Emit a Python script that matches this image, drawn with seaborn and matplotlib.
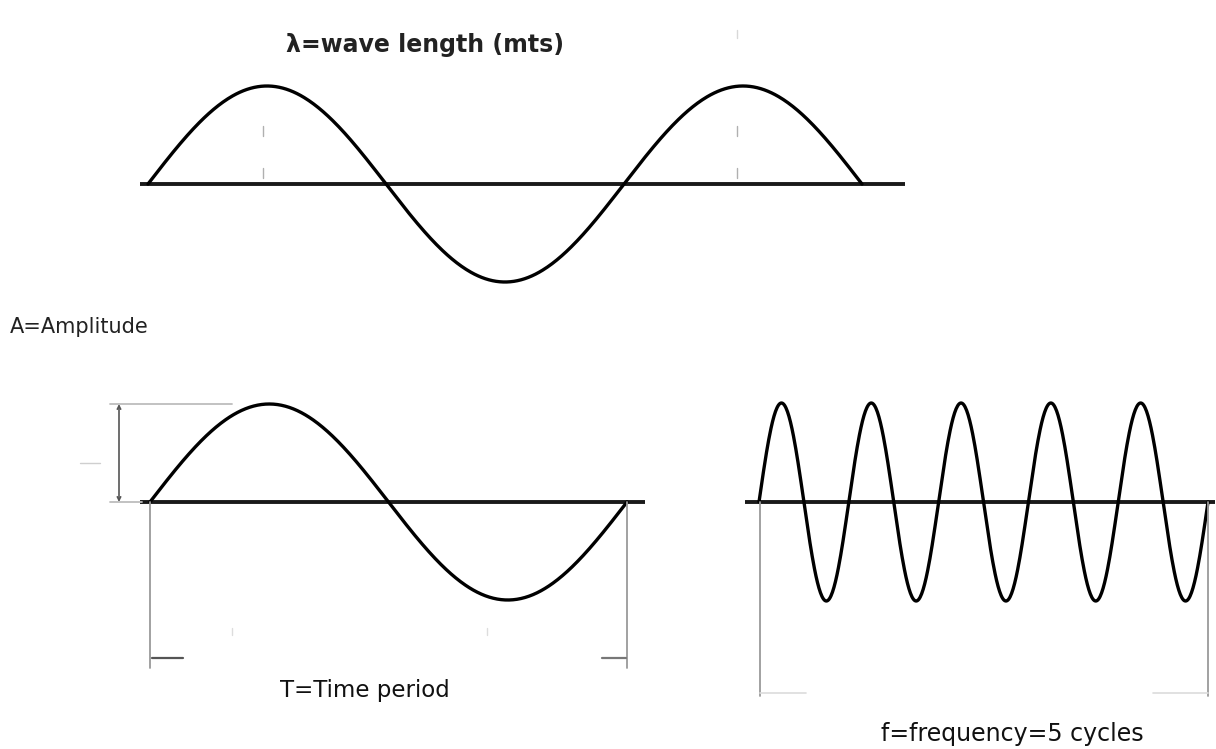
import numpy as np
import pandas as pd
import matplotlib
matplotlib.use("Agg")
import matplotlib.pyplot as plt
import seaborn as sns

# wave data: number of cycles drawn in each panel, amplitude in "A" units
wave_names = ["wavelength", "period", "frequency"]
wave_cycles = [1.5, 1.0, 5.0]
wave_amp = [1.0, 1.0, 1.0]
labels = ["\u03bb=wave length (mts)", "A=Amplitude", "T=Time period", "f=frequency=5 cycles"]

# layout in pixels: x of wave start, px per cycle, baseline y, px per amplitude
x0_px = [148, 150, 759]
cyc_px = [476, 477, 89.8]
base_px = [184, 502, 502]
amp_px = [98, 98, 99]

W, H = 1216, 749
sns.set_theme(style="white")
plt.rcParams['font.family'] = ['DejaVu Sans']

fig = plt.figure(figsize=(W / 100, H / 100), dpi=100)
fig.patch.set_facecolor("white")


def make_ax(i):
    ax = fig.add_axes([0, 0, 1, 1])
    ax.patch.set_alpha(0)
    ax.set_xlim(-x0_px[i] / cyc_px[i], (W - x0_px[i]) / cyc_px[i])
    ax.set_ylim((base_px[i] - H) / amp_px[i], base_px[i] / amp_px[i])
    ax.set_axis_off()
    return ax


def px_x(i, px):
    return (px - x0_px[i]) / cyc_px[i]


def px_y(i, py):
    return (base_px[i] - py) / amp_px[i]


axes = []
for i, name in enumerate(wave_names):
    ax = make_ax(i)
    t = np.linspace(0, wave_cycles[i], 600)
    df = pd.DataFrame({"cycle": t, "value": wave_amp[i] * np.sin(2 * np.pi * t)})
    sns.lineplot(data=df, x="cycle", y="value", ax=ax, color="black", lw=2.4,
                 sort=False, legend=False)
    axes.append(ax)

gray = "#9a9a9a"
# baselines
for i, (a, b) in enumerate([(140, 905), (140, 645), (745, 1215)]):
    axes[i].plot([px_x(i, a), px_x(i, b)], [0, 0], color="#1a1a1a", lw=2.8, zorder=1,
                 solid_capstyle="butt")

# top panel: faint marks under the peaks
ax = axes[0]
for xp in [263, 737]:
    for y1, y2 in [(126, 136), (168, 178)]:
        ax.plot([px_x(0, xp)] * 2, [px_y(0, y1), px_y(0, y2)], color="#b0b0b0", lw=1)
ax.plot([px_x(0, 737)] * 2, [px_y(0, 30), px_y(0, 38)], color="#d8d8d8", lw=1)

# bottom-left: amplitude bracket and period markers
ax = axes[1]
ax.plot([px_x(1, 110), px_x(1, 232)], [px_y(1, 404)] * 2, color="#bdbdbd", lw=1.3)
ax.plot([px_x(1, 110), px_x(1, 142)], [0, 0], color="#bdbdbd", lw=1.3)
ax.annotate("", xy=(px_x(1, 119), px_y(1, 404)), xytext=(px_x(1, 119), px_y(1, 502)),
            arrowprops=dict(arrowstyle="<->", color="#555555", lw=1.2,
                            shrinkA=0, shrinkB=0, mutation_scale=6))
ax.plot([px_x(1, 80), px_x(1, 100)], [px_y(1, 463)] * 2, color="#cfcfcf", lw=1)
for xp in [150, 627]:
    ax.plot([px_x(1, xp)] * 2, [0, px_y(1, 668)], color=gray, lw=1.3)
ax.plot([px_x(1, 152), px_x(1, 183)], [px_y(1, 658)] * 2, color="#555555", lw=1.6)
ax.plot([px_x(1, 602), px_x(1, 626)], [px_y(1, 658)] * 2, color="#777777", lw=1.6)
for xp in [232, 487]:
    ax.plot([px_x(1, xp)] * 2, [px_y(1, 628), px_y(1, 635)], color="#dddddd", lw=1)

# bottom-right: frequency span
ax = axes[2]
for xp in [760, 1208]:
    ax.plot([px_x(2, xp)] * 2, [0, px_y(2, 696)], color=gray, lw=1.3)
ax.plot([px_x(2, 760), px_x(2, 806)], [px_y(2, 693)] * 2, color="#dcdcdc", lw=1.2)
ax.plot([px_x(2, 1153), px_x(2, 1208)], [px_y(2, 693)] * 2, color="#dcdcdc", lw=1.2)

# texts (figure pixels, origin top-left)
def ftext(x, y, s, **kw):
    fig.text(x / W, 1 - y / H, s, va="center", **kw)

ftext(425, 45, labels[0], ha="center", fontsize=17, fontweight="bold", color="#222222")
ftext(10, 327, labels[1], ha="left", fontsize=15, color="#222222")
ftext(365, 690, labels[2], ha="center", fontsize=16.5, color="#111111")
ftext(1012, 734, labels[3], ha="center", fontsize=17, color="#111111")

fig.savefig("out.png", dpi=100, facecolor="white")
